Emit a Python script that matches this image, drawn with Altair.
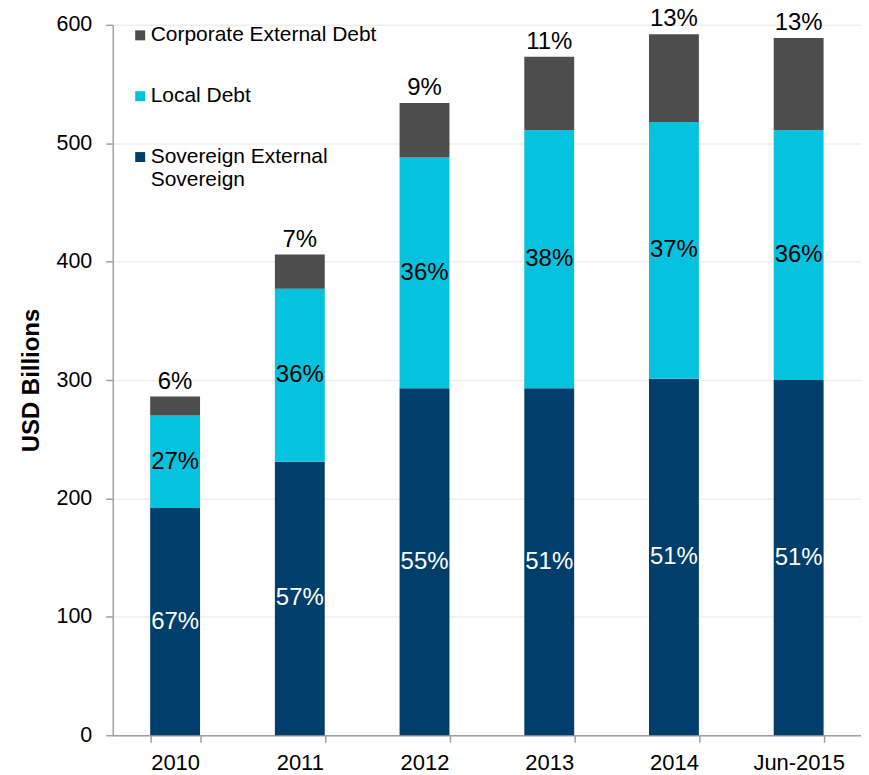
import altair as alt
import pandas as pd

categories = ["2010", "2011", "2012", "2013", "2014", "Jun-2015"]
sovereign = [192, 231, 293, 293, 301, 300]
local = [78, 146, 195, 218, 217, 211]
corporate = [16, 29, 46, 62, 74, 78]
sovereign_pct = ["67%", "57%", "55%", "51%", "51%", "51%"]
local_pct = ["27%", "36%", "36%", "38%", "37%", "36%"]
corporate_pct = ["6%", "7%", "9%", "11%", "13%", "13%"]

series = ["Corporate External Debt", "Local Debt", "Sovereign External Sovereign"]
colors = ["#4d4d4d", "#05c3de", "#003f6b"]

rows = []
for i, c in enumerate(categories):
    base = 0
    for name, vals, pcts, order, tcol in [
        ("Sovereign External Sovereign", sovereign, sovereign_pct, 0, "white"),
        ("Local Debt", local, local_pct, 1, "black"),
        ("Corporate External Debt", corporate, corporate_pct, 2, "black"),
    ]:
        v = vals[i]
        rows.append(dict(cat=c, series=name, value=v, y0=base, y1=base + v,
                         mid=base + v / 2, pct=pcts[i], order=order, tcol=tcol))
        base += v
df = pd.DataFrame(rows)

font = "Liberation Sans"

x = alt.X("cat:N", sort=categories, title=None,
          scale=alt.Scale(paddingInner=0.6, paddingOuter=0.3),
          axis=alt.Axis(tickBand="extent", labelAngle=0, labelFontSize=22,
                        labelFont=font, labelColor="black", labelPadding=10,
                        tickSize=7, tickColor="#a0a0a0", domainColor="#a0a0a0",
                        domainWidth=1.5, tickWidth=1.5, grid=False))

bars = alt.Chart(df).mark_bar(stroke=None).encode(
    x=x,
    y=alt.Y("y0:Q", title="USD Billions",
            scale=alt.Scale(domain=[0, 600], nice=False),
            axis=alt.Axis(values=[0, 100, 200, 300, 400, 500, 600],
                          labelFontSize=21.5, labelFont=font, labelColor="black",
                          labelPadding=14, tickSize=7, tickColor="#a0a0a0",
                          tickWidth=1.5, domainColor="#a0a0a0", domainWidth=1.5,
                          gridColor="#efefef", gridWidth=1.5,
                          titleFont=font, titleFontSize=24, titleFontWeight="bold",
                          titleColor="black", titlePadding=13)),
    y2="y1:Q",
    color=alt.Color("series:N",
                    scale=alt.Scale(domain=series, range=colors),
                    legend=alt.Legend(orient="none", legendX=17, legendY=0,
                                      title=None, symbolType="square",
                                      symbolSize=100, symbolStrokeWidth=0,
                                      labelFont=font, labelFontSize=21,
                                      labelColor="black", labelOffset=0,
                                      rowPadding=39, padding=0,
                                      labelLimit=400,
                                      labelExpr="datum.label == 'Sovereign External Sovereign' ? ['Sovereign External', 'Sovereign'] : datum.label")),
    order=alt.Order("order:Q"),
)

inner = alt.Chart(df).transform_filter("datum.order < 2").mark_text(
    font=font, fontSize=24, baseline="middle").encode(
    x=alt.X("cat:N", sort=categories),
    y=alt.Y("mid:Q"),
    text="pct:N",
    color=alt.Color("tcol:N", scale=None),
)

top = alt.Chart(df).transform_filter("datum.order == 2").mark_text(
    font=font, fontSize=24, baseline="bottom", dy=-3, color="black").encode(
    x=alt.X("cat:N", sort=categories),
    y=alt.Y("y1:Q"),
    text="pct:N",
)

chart = alt.layer(bars, inner, top).properties(
    width=750, height=712,
    autosize=alt.AutoSizeParams(type="none"),
    padding={"left": 105, "top": 16, "right": 0, "bottom": 38},
).configure_view(stroke=None)

chart.save("out.html", embed_options={"renderer": "svg", "actions": False})
